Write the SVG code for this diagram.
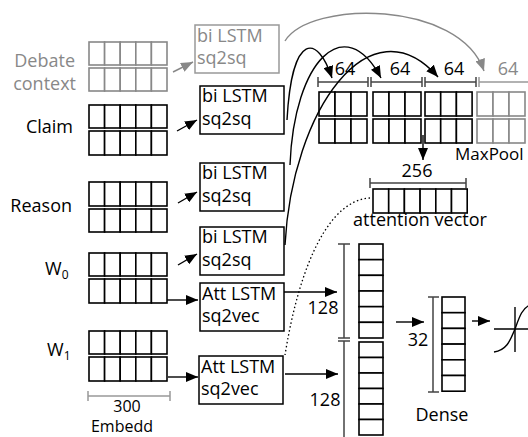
<svg xmlns="http://www.w3.org/2000/svg" width="528" height="437" viewBox="0 0 528 437">
<defs>
<style>
text{font-family:"Open Sans","DejaVu Sans",sans-serif;font-size:18px;fill:#000}
.g{fill:#888}
.s{font-size:17px}
.t{font-size:16px}
.cell{fill:#fff;stroke:#000;stroke-width:1.6}
.gcell{fill:#fff;stroke:#888;stroke-width:1.6}
.box{fill:#fff;stroke:#000;stroke-width:1.5}
.gbox{fill:#fff;stroke:#999;stroke-width:1.5}
.br{fill:none;stroke:#444;stroke-width:1.5}
.gbr{fill:none;stroke:#999;stroke-width:1.5}
.ln{fill:none;stroke:#000;stroke-width:1.4}
.arr{fill:none;stroke:#000;stroke-width:1.4;marker-end:url(#ah)}
.garr{fill:none;stroke:#888;stroke-width:1.4;marker-end:url(#gah)}
.c{text-anchor:middle}
.e{text-anchor:end}
</style>
<marker id="ah" viewBox="0 0 12 10" refX="12" refY="5" markerWidth="12" markerHeight="10" markerUnits="userSpaceOnUse" orient="auto"><path d="M0,0 L12,5 L0,10 z" fill="#000"/></marker>
<marker id="gah" viewBox="0 0 12 10" refX="12" refY="5" markerWidth="12" markerHeight="10" markerUnits="userSpaceOnUse" orient="auto"><path d="M0,0 L12,5 L0,10 z" fill="#888"/></marker>
</defs>

<g id="input-debate">
<text class="g e" x="75" y="67">Debate</text>
<text class="g e" x="76" y="90">context</text>
<g class="gcell">
<rect x="89" y="42" width="15.6" height="23"/><rect x="104.6" y="42" width="15.6" height="23"/><rect x="120.2" y="42" width="15.6" height="23"/><rect x="135.8" y="42" width="15.6" height="23"/><rect x="151.4" y="42" width="15.6" height="23"/>
<rect x="89" y="68" width="15.6" height="23"/><rect x="104.6" y="68" width="15.6" height="23"/><rect x="120.2" y="68" width="15.6" height="23"/><rect x="135.8" y="68" width="15.6" height="23"/><rect x="151.4" y="68" width="15.6" height="23"/>
</g>
</g>

<g id="input-claim">
<text class="e" x="73" y="133">Claim</text>
<g class="cell">
<rect x="89" y="105" width="15.6" height="23"/><rect x="104.6" y="105" width="15.6" height="23"/><rect x="120.2" y="105" width="15.6" height="23"/><rect x="135.8" y="105" width="15.6" height="23"/><rect x="151.4" y="105" width="15.6" height="23"/>
<rect x="89" y="131" width="15.6" height="24"/><rect x="104.6" y="131" width="15.6" height="24"/><rect x="120.2" y="131" width="15.6" height="24"/><rect x="135.8" y="131" width="15.6" height="24"/><rect x="151.4" y="131" width="15.6" height="24"/>
</g>
</g>

<g id="input-reason">
<text class="e" x="72" y="212">Reason</text>
<g class="cell">
<rect x="89" y="182" width="15.6" height="24"/><rect x="104.6" y="182" width="15.6" height="24"/><rect x="120.2" y="182" width="15.6" height="24"/><rect x="135.8" y="182" width="15.6" height="24"/><rect x="151.4" y="182" width="15.6" height="24"/>
<rect x="89" y="209" width="15.6" height="23"/><rect x="104.6" y="209" width="15.6" height="23"/><rect x="120.2" y="209" width="15.6" height="23"/><rect x="135.8" y="209" width="15.6" height="23"/><rect x="151.4" y="209" width="15.6" height="23"/>
</g>
</g>

<g id="input-w0">
<text x="45" y="275">W<tspan font-size="12" dy="4">0</tspan></text>
<g class="cell">
<rect x="89" y="253" width="15.6" height="23"/><rect x="104.6" y="253" width="15.6" height="23"/><rect x="120.2" y="253" width="15.6" height="23"/><rect x="135.8" y="253" width="15.6" height="23"/><rect x="151.4" y="253" width="15.6" height="23"/>
<rect x="89" y="279" width="15.6" height="24"/><rect x="104.6" y="279" width="15.6" height="24"/><rect x="120.2" y="279" width="15.6" height="24"/><rect x="135.8" y="279" width="15.6" height="24"/><rect x="151.4" y="279" width="15.6" height="24"/>
</g>
</g>

<g id="input-w1">
<text x="47" y="356">W<tspan font-size="12" dy="4">1</tspan></text>
<g class="cell">
<rect x="89" y="331" width="15.6" height="23"/><rect x="104.6" y="331" width="15.6" height="23"/><rect x="120.2" y="331" width="15.6" height="23"/><rect x="135.8" y="331" width="15.6" height="23"/><rect x="151.4" y="331" width="15.6" height="23"/>
<rect x="89" y="357" width="15.6" height="24"/><rect x="104.6" y="357" width="15.6" height="24"/><rect x="120.2" y="357" width="15.6" height="24"/><rect x="135.8" y="357" width="15.6" height="24"/><rect x="151.4" y="357" width="15.6" height="24"/>
</g>
</g>

<g id="embedd-label">
<path class="gbr" d="M88,396 H170 M88,391 V401 M170,391 V401"/>
<text class="c t" x="127" y="412">300</text>
<text class="c t" x="122" y="432">Embedd</text>
</g>

<g id="lstm-debate">
<rect class="gbox" x="195" y="25" width="84" height="48"/>
<text class="g" x="197" y="42">bi LSTM</text>
<text class="g" x="197" y="64">sq2sq</text>
</g>
<g id="lstm-claim">
<rect class="box" x="200" y="86" width="84" height="48"/>
<text x="202" y="102">bi LSTM</text>
<text x="202" y="125">sq2sq</text>
</g>
<g id="lstm-reason">
<rect class="box" x="200" y="163" width="84" height="48"/>
<text x="202" y="179">bi LSTM</text>
<text x="202" y="202">sq2sq</text>
</g>
<g id="lstm-w0">
<rect class="box" x="200" y="227" width="84" height="48"/>
<text x="202" y="243">bi LSTM</text>
<text x="202" y="266">sq2sq</text>
</g>
<g id="att-w0">
<rect class="box" x="200" y="283" width="84" height="48"/>
<text x="202" y="300">Att LSTM</text>
<text x="202" y="322">sq2vec</text>
</g>
<g id="att-w1">
<rect class="box" x="199" y="356" width="84" height="48"/>
<text x="201" y="373">Att LSTM</text>
<text x="201" y="395">sq2vec</text>
</g>

<g id="maxpool">
<path class="br" d="M318,82 H368 M318,77 V87 M368,77 V87 M371,82 H422 M371,77 V87 M422,77 V87 M425,82 H476 M425,77 V87 M476,77 V87"/>
<path class="gbr" d="M479,82 H528 M479,77 V87"/>
<text class="c" x="345" y="75">64</text>
<text class="c" x="400" y="75">64</text>
<text class="c" x="454" y="75">64</text>
<text class="c g" x="508" y="75">64</text>
<g class="cell">
<rect x="319" y="92" width="16" height="24"/><rect x="335" y="92" width="16" height="24"/><rect x="351" y="92" width="16" height="24"/>
<rect x="319" y="119" width="16" height="24"/><rect x="335" y="119" width="16" height="24"/><rect x="351" y="119" width="16" height="24"/>
<rect x="373" y="92" width="16" height="24"/><rect x="389" y="92" width="16" height="24"/><rect x="405" y="92" width="16" height="24"/>
<rect x="373" y="119" width="16" height="24"/><rect x="389" y="119" width="16" height="24"/><rect x="405" y="119" width="16" height="24"/>
<rect x="425" y="92" width="15.7" height="24"/><rect x="440.7" y="92" width="15.7" height="24"/><rect x="456.4" y="92" width="15.7" height="24"/>
<rect x="425" y="119" width="15.7" height="24"/><rect x="440.7" y="119" width="15.7" height="24"/><rect x="456.4" y="119" width="15.7" height="24"/>
</g>
<g class="gcell">
<rect x="477" y="92" width="16" height="24"/><rect x="493" y="92" width="16" height="24"/><rect x="509" y="92" width="16" height="24"/>
<rect x="477" y="119" width="16" height="24"/><rect x="493" y="119" width="16" height="24"/><rect x="509" y="119" width="16" height="24"/>
</g>
<text class="s" x="455" y="160">MaxPool</text>
</g>

<g id="attention-vector">
<path class="br" d="M370,183 H466 M370,178 V188 M466,178 V188"/>
<text class="c" x="417" y="177">256</text>
<g class="cell">
<rect x="373" y="189" width="15.7" height="24"/><rect x="388.7" y="189" width="15.7" height="24"/><rect x="404.4" y="189" width="15.7" height="24"/><rect x="420.1" y="189" width="15.7" height="24"/><rect x="435.8" y="189" width="15.7" height="24"/><rect x="451.5" y="189" width="15.7" height="24"/>
</g>
<text class="c" x="420" y="226">attention vector</text>
</g>

<g id="concat-vector">
<path class="br" d="M344,244 V338 M338,244 H350 M338,338 H350 M344,341 V437 M338,341 H350"/>
<text class="c" x="323" y="314">128</text>
<text class="c" x="325" y="406">128</text>
<g class="cell">
<rect x="359" y="244" width="24" height="15.67"/><rect x="359" y="259.67" width="24" height="15.67"/><rect x="359" y="275.33" width="24" height="15.67"/><rect x="359" y="291" width="24" height="15.67"/><rect x="359" y="306.67" width="24" height="15.67"/><rect x="359" y="322.33" width="24" height="15.67"/>
<rect x="359" y="342" width="24" height="15.5"/><rect x="359" y="357.5" width="24" height="15.5"/><rect x="359" y="373" width="24" height="15.5"/><rect x="359" y="388.5" width="24" height="15.5"/><rect x="359" y="404" width="24" height="15.5"/><rect x="359" y="419.5" width="24" height="15.5"/>
</g>
</g>

<g id="dense">
<path class="br" d="M433,297 V392 M428,297 H439 M428,392 H439"/>
<text class="c" x="418" y="346">32</text>
<g class="cell">
<rect x="442" y="297" width="23" height="15.7"/><rect x="442" y="312.7" width="23" height="15.7"/><rect x="442" y="328.4" width="23" height="15.7"/><rect x="442" y="344.1" width="23" height="15.7"/><rect x="442" y="359.8" width="23" height="15.7"/><rect x="442" y="375.5" width="23" height="15.7"/>
</g>
<text class="c" x="442" y="421">Dense</text>
</g>

<g id="sigmoid">
<path class="ln" d="M494,329 H528 M515,307 V352"/>
<path class="ln" d="M494,352 C508,350 511,338 515,329 C519,318 522,308 530,305"/>
</g>

<g id="connectors">
<path class="garr" d="M173,72 L193,62"/>
<path class="arr" d="M177,131 L197,120"/>
<path class="arr" d="M178,203 L197,192"/>
<path class="arr" d="M178,265 L197,254"/>
<path class="arr" d="M167,300 L198,300"/>
<path class="arr" d="M168,377 L198,377"/>
<path class="garr" d="M285,41 C310,0 460,0 484,71"/>
<path class="arr" d="M287,120 C292,30 318,35 332,78"/>
<path class="arr" d="M290,165 C294,60 345,10 381,78"/>
<path class="arr" d="M285,245 C292,110 370,0 438,77"/>
<path class="arr" d="M423,135 L423,160"/>
<path class="arr" d="M284,292 L337,292"/>
<path class="arr" d="M285,374 L338,374"/>
<path class="arr" d="M396,322 L424,322"/>
<path class="arr" d="M472,321 L490,321"/>
<path fill="none" stroke="#000" stroke-width="1.3" stroke-dasharray="1.5 2.5" d="M370,198 C330,200 300,262 285,355"/>
</g>
</svg>
